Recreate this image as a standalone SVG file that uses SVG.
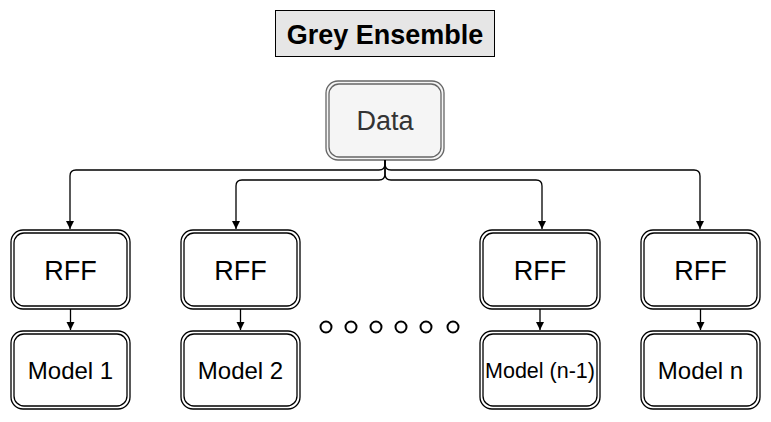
<svg xmlns="http://www.w3.org/2000/svg" width="771" height="422" viewBox="0 0 771 422">
<defs>
<style>
.outer{fill:#ffffff;stroke:#000;stroke-width:1.3}
.inner{fill:none;stroke:#000;stroke-width:1.3}
.lbl{font-family:"Liberation Sans",Arial,sans-serif;text-anchor:middle;fill:#000}
.conn{fill:none;stroke:#000;stroke-width:1.3}
.dot{fill:none;stroke:#000;stroke-width:2}
</style>
<marker id="arr" markerWidth="10" markerHeight="10" refX="8" refY="4" orient="auto" markerUnits="userSpaceOnUse">
<path d="M0,0 L8,4 L0,8 Z" fill="#000"/>
</marker>
</defs>
<rect width="771" height="422" fill="#fff"/>
<g id="title">
<rect x="275.5" y="10.5" width="219" height="46" fill="#e6e6e6" stroke="#000" stroke-width="1"/>
<text class="lbl" x="385" y="44" font-size="27" font-weight="bold">Grey Ensemble</text>
</g>
<g id="data">
<rect x="326" y="81" width="118" height="79" rx="12" fill="#f5f5f5" stroke="#666" stroke-width="1.3"/>
<rect x="329" y="84" width="112" height="73" rx="10" fill="none" stroke="#666" stroke-width="1.3"/>
<text class="lbl" x="385" y="130" font-size="27" style="fill:#333">Data</text>
</g>
<g id="connectors">
<path class="conn" d="M385,160 L385,164 Q385,170 379,170 L76,170 Q70,170 70,176 L70,229" marker-end="url(#arr)"/>
<path class="conn" d="M385,160 L385,174 Q385,180 379,180 L242,180 Q236,180 236,186 L236,229" marker-end="url(#arr)"/>
<path class="conn" d="M385,160 L385,174 Q385,180 391,180 L536,180 Q542,180 542,186 L542,229" marker-end="url(#arr)"/>
<path class="conn" d="M385,160 L385,164 Q385,170 391,170 L694,170 Q700,170 700,176 L700,229" marker-end="url(#arr)"/>
<path class="conn" d="M70.5,309 L70.5,330" marker-end="url(#arr)"/>
<path class="conn" d="M240.5,309 L240.5,330" marker-end="url(#arr)"/>
<path class="conn" d="M540,309 L540,330" marker-end="url(#arr)"/>
<path class="conn" d="M700.5,309 L700.5,330" marker-end="url(#arr)"/>
</g>
<g id="rff1">
<rect class="outer" x="11" y="230" width="119" height="79" rx="12"/>
<rect class="inner" x="14" y="233" width="113" height="73" rx="10"/>
<text class="lbl" x="70.5" y="280" font-size="27">RFF</text>
</g>
<g id="rff2">
<rect class="outer" x="181" y="230" width="119" height="79" rx="12"/>
<rect class="inner" x="184" y="233" width="113" height="73" rx="10"/>
<text class="lbl" x="240.5" y="280" font-size="27">RFF</text>
</g>
<g id="rff3">
<rect class="outer" x="480" y="230" width="120" height="79" rx="12"/>
<rect class="inner" x="483" y="233" width="114" height="73" rx="10"/>
<text class="lbl" x="540" y="280" font-size="27">RFF</text>
</g>
<g id="rff4">
<rect class="outer" x="641" y="230" width="119" height="79" rx="12"/>
<rect class="inner" x="644" y="233" width="113" height="73" rx="10"/>
<text class="lbl" x="700.5" y="280" font-size="27">RFF</text>
</g>
<g id="model1">
<rect class="outer" x="11" y="331" width="119" height="78" rx="12"/>
<rect class="inner" x="14" y="334" width="113" height="72" rx="10"/>
<text class="lbl" x="70.5" y="379" font-size="24">Model 1</text>
</g>
<g id="model2">
<rect class="outer" x="181" y="331" width="119" height="78" rx="12"/>
<rect class="inner" x="184" y="334" width="113" height="72" rx="10"/>
<text class="lbl" x="240.5" y="379" font-size="24">Model 2</text>
</g>
<g id="model3">
<rect class="outer" x="480" y="331" width="120" height="78" rx="12"/>
<rect class="inner" x="483" y="334" width="114" height="72" rx="10"/>
<text class="lbl" x="540" y="378" font-size="21.5">Model (n-1)</text>
</g>
<g id="model4">
<rect class="outer" x="641" y="331" width="119" height="78" rx="12"/>
<rect class="inner" x="644" y="334" width="113" height="72" rx="10"/>
<text class="lbl" x="700.5" y="379" font-size="24">Model n</text>
</g>
<g id="dots">
<circle class="dot" cx="326" cy="327" r="5.5"/>
<circle class="dot" cx="351" cy="327" r="5.5"/>
<circle class="dot" cx="376" cy="327" r="5.5"/>
<circle class="dot" cx="401" cy="327" r="5.5"/>
<circle class="dot" cx="426" cy="327" r="5.5"/>
<circle class="dot" cx="453" cy="327" r="5.5"/>
</g>
</svg>
